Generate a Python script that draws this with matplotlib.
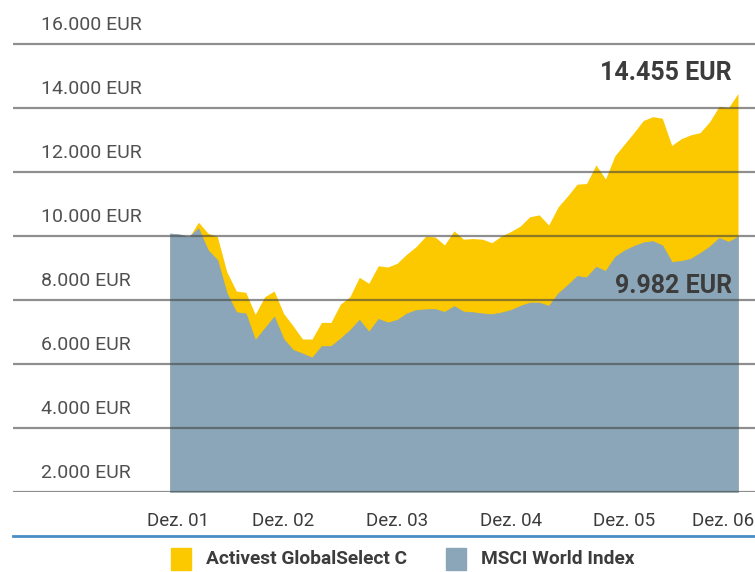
import matplotlib
matplotlib.use("Agg")
import matplotlib.pyplot as plt
from matplotlib.lines import Line2D
from matplotlib.patches import Rectangle

# month index 0 = Dez. 01 ... 60 = Dez. 06
activest = [10000, 9850, 9950, 10430, 10090, 9980, 8880, 8280, 8240, 7550,
            8100, 8280, 7580, 7190, 6780, 6780, 7300, 7300, 7870, 8100,
            8710, 8520, 9070, 9030, 9150, 9430, 9670, 9990, 9970, 9720,
            10160, 9900, 9920, 9900, 9790, 10000, 10140, 10310, 10600, 10660,
            10340, 10910, 11250, 11620, 11640, 12220, 11780, 12510, 12870, 13230,
            13610, 13730, 13680, 12830, 13040, 13160, 13230, 13570, 14050, 14010,
            14455]
msci = [10080, 10050, 9980, 10240, 9560, 9250, 8210, 7620, 7580, 6750,
        7120, 7480, 6780, 6440, 6330, 6200, 6560, 6560, 6800, 7060,
        7380, 7010, 7410, 7300, 7380, 7580, 7690, 7710, 7720, 7630,
        7810, 7640, 7620, 7580, 7560, 7610, 7690, 7820, 7920, 7920,
        7820, 8210, 8470, 8750, 8710, 9040, 8910, 9350, 9550, 9690,
        9800, 9840, 9710, 9190, 9220, 9290, 9470, 9670, 9940, 9820,
        9982]
months = list(range(len(activest)))

year_labels = ["Dez. 01", "Dez. 02", "Dez. 03", "Dez. 04", "Dez. 05", "Dez. 06"]
y_levels = [2000, 4000, 6000, 8000, 10000, 12000, 14000, 16000]
series_names = ["Activest GlobalSelect C", "MSCI World Index"]
end_labels = ["14.455 EUR", "9.982 EUR"]

YELLOW = "#FCC800"
BLUE = "#8BA6B8"
TEXT = "#3c3c3c"

plt.rcParams["font.family"] = ["Roboto", "DejaVu Sans"]


def fmt_eur(v):
    return f"{v:,.0f}".replace(",", ".") + " EUR"


def main():
    fig = plt.figure(figsize=(7.55, 5.72), dpi=100)
    W, H = 755, 572
    ax = fig.add_axes([13 / W, (H - 492) / H, 1 - 13 / W, 492 / H])

    # areas
    ax.fill_between(months, 2000, activest, color=YELLOW, lw=0, zorder=1)
    ax.fill_between(months, 2000, msci, facecolor=BLUE, edgecolor=BLUE,
                    lw=0.5, zorder=2)

    # grid lines sit on top of the areas
    for v in y_levels:
        ax.axhline(v, color="#444444", alpha=0.6, lw=1.6, zorder=3)
        ax.annotate(fmt_eur(v), xy=(0, v), xycoords=("axes fraction", "data"),
                    xytext=(28, 19), textcoords="offset pixels",
                    ha="left", va="center", fontsize=14, color="#505050")

    px = 568 / 60
    ax.set_xlim(-157 / px, 60 + 17 / px)
    ax.set_ylim(2000, 2000 + 492 * 31.25)
    ax.axis("off")

    # end values
    ax.annotate(end_labels[0], xy=(60, activest[-1]), xytext=(-6, 20),
                textcoords="offset pixels", ha="right", va="center",
                fontsize=18, fontweight="bold", color=TEXT)
    ax.annotate(end_labels[1], xy=(60, msci[-1]), xytext=(-6, -49),
                textcoords="offset pixels", ha="right", va="center",
                fontsize=18, fontweight="bold", color=TEXT)

    # x labels, first nudged in, last right-aligned at the edge
    label_x = [0.8, 12, 24, 36, 48, 60]
    for i, (xv, lab) in enumerate(zip(label_x, year_labels)):
        last = i == len(year_labels) - 1
        ax.annotate(lab, xy=(xv, 0), xycoords=("data", "axes fraction"),
                    xytext=(16 if last else 0, -29), textcoords="offset pixels",
                    ha="right" if last else "center", va="center",
                    fontsize=13.5, color=TEXT)

    # blue separator
    fig.add_artist(Line2D([13 / W, 1], [(H - 536) / H] * 2, color="#4a8cc4", lw=2))

    # legend
    for (x0, xt), name, col in zip([(171, 206), (446, 481)], series_names, [YELLOW, BLUE]):
        fig.add_artist(Rectangle((x0 / W, (H - 570) / H), 20 / W, 22 / H,
                                 color=col, transform=fig.transFigure))
        fig.text(xt / W, (H - 559) / H, name, ha="left", va="center",
                 fontsize=13.8, fontweight="bold", color=TEXT)

    fig.savefig("out.png", dpi=100)


if __name__ == "__main__":
    main()
